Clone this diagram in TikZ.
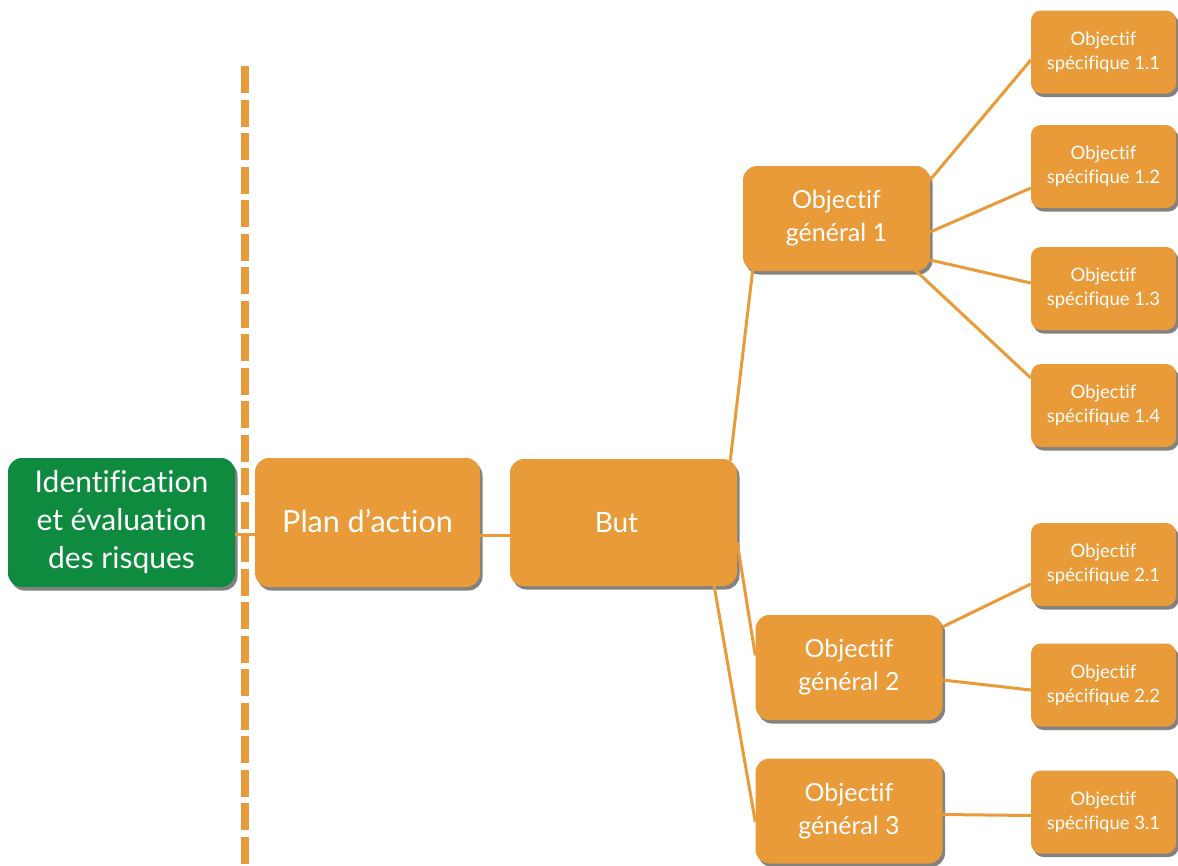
\documentclass[tikz,border=0pt]{standalone}
\usepackage{fontspec}
\setmainfont{Lato}[Ligatures={NoCommon}]
\usetikzlibrary{shadows,calc}
\definecolor{orangebox}{HTML}{E89B38}
\definecolor{greenbox}{HTML}{0E8B3E}
\begin{document}
\begin{tikzpicture}[x=1pt,y=-1pt,
  boxbase/.style={rounded corners=14pt, text=white, align=center, inner sep=0pt,
    drop shadow={shadow xshift=2.5pt, shadow yshift=-3.5pt, fill=black!75, opacity=0.65}},
  bigbox/.style={boxbase, fill=orangebox, font=\fontsize{30.5}{38}\selectfont},
  greenstyle/.style={boxbase, fill=greenbox, font=\fontsize{30}{38}\selectfont},
  genbox/.style={boxbase, fill=orangebox, minimum width=187pt, minimum height=105pt, font=\fontsize{25}{33}\selectfont},
  specbox/.style={boxbase, rounded corners=10pt, fill=orangebox, minimum width=145pt, minimum height=83pt, font=\fontsize{18.5}{24}\selectfont},
  link/.style={draw=orangebox, line width=3pt},
  sepline/.style={draw=orangebox, line width=8pt, dash pattern=on 27pt off 6.5pt}
]
\useasboundingbox (0,0) rectangle (1178,865);
\clip (0,0) rectangle (1178,865);
\fill[white] (0,0) rectangle (1178,865);

% separator
\coordinate (septop) at (245,66);
\coordinate (sepbot) at (245,870);
\draw[sepline] (septop) -- (sepbot);

% main row
\node[greenstyle, minimum width=227pt, minimum height=129pt] (risk) at (121.5,522.5) {Identification\\et évaluation\\des risques};
\node[bigbox, minimum width=225pt, minimum height=129pt, text depth=0pt] (plan) at (367.5,522.5) {\raisebox{3pt}{Plan d’action}};
\node[bigbox, minimum width=227pt, minimum height=127pt, font=\fontsize{28}{34}\selectfont] (but) at (623.5,522.5) {\hspace*{-14pt}But};

% general objectives
\node[genbox] (og1) at (836.5,218.5) {Objectif\\général 1};
\node[genbox] (og2) at (849,667.5) {Objectif\\général 2};
\node[genbox] (og3) at (849,811) {Objectif\\général 3};

% specific objectives
\node[specbox] (s11) at (1103.5,52) {Objectif\\spécifique 1.1};
\node[specbox] (s12) at (1103.5,166.5) {Objectif\\spécifique 1.2};
\node[specbox] (s13) at (1103.5,288.5) {Objectif\\spécifique 1.3};
\node[specbox] (s14) at (1103.5,405.5) {Objectif\\spécifique 1.4};
\node[specbox] (s21) at (1103.5,564.5) {Objectif\\spécifique 2.1};
\node[specbox] (s22) at (1103.5,685) {Objectif\\spécifique 2.2};
\node[specbox] (s31) at (1103.5,812) {Objectif\\spécifique 3.1};

% connectors
\draw[link] ([yshift=-12pt]risk.east) -- ([yshift=-12pt]plan.west);
\draw[link] ([yshift=-13pt]plan.east) -- ([yshift=-13pt]but.west);
\draw[link] ([xshift=-7pt,yshift=-2pt]but.north east) -- ([xshift=10pt,yshift=2pt]og1.south west);
\draw[link] ([yshift=-20pt]but.east) -- ([yshift=12pt]og2.west);
\draw[link] ([xshift=-23pt]but.south east) -- ([yshift=-11pt]og3.west);
\draw[link] ([yshift=-14pt]og1.north east) -- ([yshift=-8pt]s11.west);
\draw[link] ([yshift=-13.5pt]og1.east) -- ([yshift=-21.5pt]s12.west);
\draw[link] ([yshift=-41.5pt]og1.east) -- ([yshift=5.5pt]s13.west);
\draw[link] ([xshift=-15pt,yshift=1pt]og1.south east) -- ([yshift=27.5pt]s14.west);
\draw[link] ([yshift=-12pt]og2.north east) -- ([yshift=-19.5pt]s21.west);
\draw[link] ([yshift=-12.5pt]og2.east) -- ([yshift=-5pt]s22.west);
\draw[link] ([yshift=-3.5pt]og3.east) -- ([yshift=-3.5pt]s31.west);
\end{tikzpicture}
\end{document}
